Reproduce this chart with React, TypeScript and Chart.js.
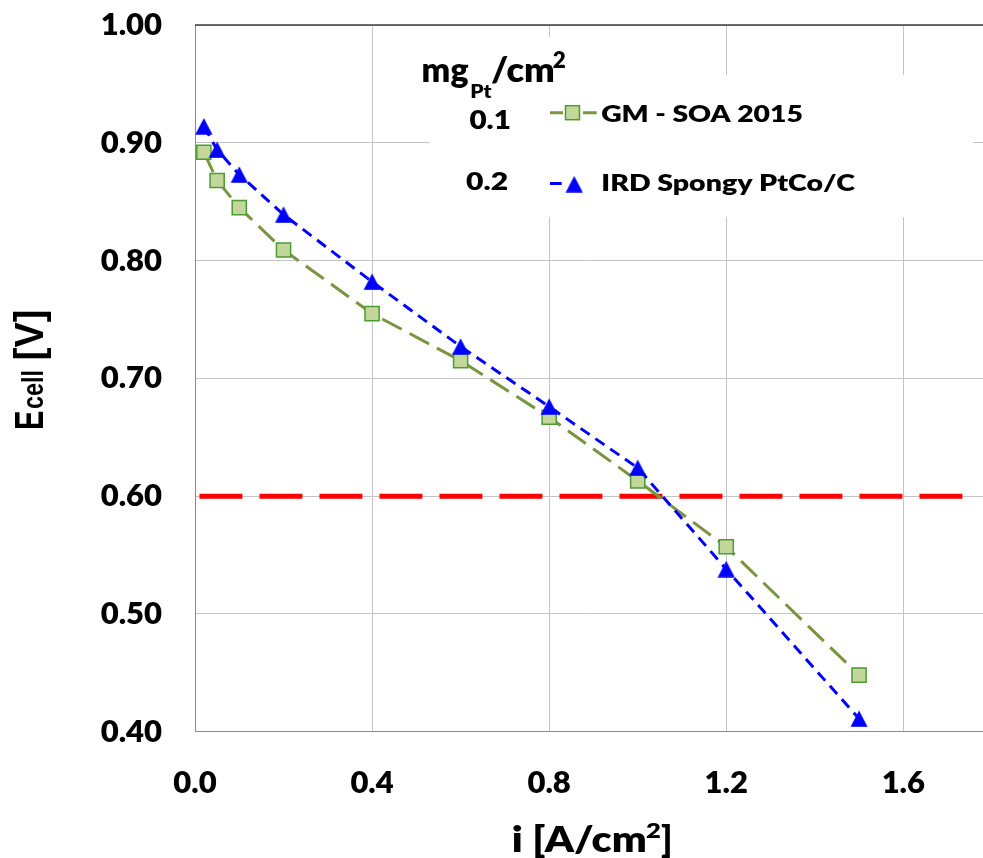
import React, { useEffect, useRef } from "react";
import { Chart, registerables } from "chart.js";

Chart.register(...registerables);

// ---------------- data ----------------
const currentDensity = [0.02, 0.05, 0.1, 0.2, 0.4, 0.6, 0.8, 1.0, 1.2, 1.5];
const gmSoa2015 = [0.892, 0.868, 0.845, 0.809, 0.755, 0.715, 0.667, 0.613, 0.557, 0.448];
const irdSpongyPtCo = [0.914, 0.894, 0.873, 0.839, 0.782, 0.727, 0.676, 0.624, 0.538, 0.411];
const targetLineX = [0.01, 1.735];
const targetLineY = [0.6, 0.6];
const xTickValues = [0, 0.4, 0.8, 1.2, 1.6];
const yTickValues = [0.4, 0.5, 0.6, 0.7, 0.8, 0.9, 1.0];
const seriesNames = ["GM - SOA 2015", "IRD Spongy PtCo/C"];
const loadings = ["0.1", "0.2"];

// ---------------- styles ----------------
const LATO = "Lato, 'Open Sans', sans-serif";
const ARIAL = "'Liberation Sans', Arial, sans-serif";
const HEAVY = "800";
const GM_LINE = "#7A9440";
const GM_FILL = "#C4D79B";
const GM_EDGE = "#4E9A35";
const IRD_BLUE = "#0000FF";
const TARGET_RED = "#FF0000";

function fitText(ctx: CanvasRenderingContext2D, text: string, family: string, left: number, right: number | null, top: number, baseline: number, ref: string, weight = HEAVY) {
  ctx.save();
  ctx.font = `${weight} 100px ${family}`;
  ctx.textAlign = "left";
  ctx.textBaseline = "alphabetic";
  ctx.fillStyle = "#000";
  const m = ctx.measureText(text);
  const r = ctx.measureText(ref);
  const sy = (baseline - top) / r.actualBoundingBoxAscent;
  const inkW = m.actualBoundingBoxLeft + m.actualBoundingBoxRight;
  const sx = right == null ? sy : (right - left) / inkW;
  ctx.translate(left, baseline);
  ctx.scale(sx, sy);
  ctx.fillText(text, m.actualBoundingBoxLeft, 0);
  ctx.restore();
}

function makeTriangle(): HTMLCanvasElement {
  const c = document.createElement("canvas");
  c.width = 18;
  c.height = 17;
  const g = c.getContext("2d")!;
  g.fillStyle = IRD_BLUE;
  g.beginPath();
  g.moveTo(9, 0.3);
  g.lineTo(17.6, 16.7);
  g.lineTo(0.4, 16.7);
  g.closePath();
  g.fill();
  return c;
}

export default function App() {
  const ref = useRef<HTMLCanvasElement>(null);

  useEffect(() => {
    const tri = makeTriangle();

    const overlay = {
      id: "overlay",
      beforeDatasetsDraw(chart: any) {
        const ctx = chart.ctx as CanvasRenderingContext2D;
        const a = chart.chartArea;
        ctx.save();
        ctx.fillStyle = "#fff";
        ctx.fillRect(430, 37, 155, 180);
        ctx.fillRect(430, 75, 543, 142);
        ctx.strokeStyle = "#3c3c3c";
        ctx.lineWidth = 1.5;
        ctx.beginPath();
        ctx.moveTo(a.left, a.top);
        ctx.lineTo(a.right, a.top);
        ctx.stroke();
        ctx.restore();
      },
      afterDraw(chart: any) {
        const ctx = chart.ctx as CanvasRenderingContext2D;
        ctx.save();
        fitText(ctx, "mg", LATO, 423.3, 468.3, 63.3, 81.7, "x");
        fitText(ctx, "Pt", LATO, 471.7, 491.7, 85, 98.3, "H");
        fitText(ctx, "/cm", LATO, 491.7, 553.3, 63.3, 81.7, "x");
        fitText(ctx, "2", LATO, 553.3, 565, 51.7, 68.3, "2");
        fitText(ctx, loadings[0], LATO, 470, 509.3, 110, 129.3, "0");
        fitText(ctx, loadings[1], LATO, 466.7, 507.3, 171.7, 190, "0");
        fitText(ctx, seriesNames[0], LATO, 601.7, 801.7, 104.5, 121.7, "H");
        fitText(ctx, seriesNames[1], LATO, 603.3, 855, 174, 191, "H");

        ctx.lineCap = "butt";
        ctx.strokeStyle = GM_LINE;
        ctx.lineWidth = 3;
        ctx.beginPath();
        ctx.moveTo(550, 112.7);
        ctx.lineTo(563, 112.7);
        ctx.moveTo(583, 112.7);
        ctx.lineTo(596.7, 112.7);
        ctx.stroke();
        ctx.fillStyle = GM_FILL;
        ctx.fillRect(565.5, 105.7, 14, 14);
        ctx.strokeStyle = GM_EDGE;
        ctx.lineWidth = 1.5;
        ctx.strokeRect(565.5, 105.7, 14, 14);

        ctx.strokeStyle = IRD_BLUE;
        ctx.lineWidth = 3;
        ctx.beginPath();
        ctx.moveTo(550, 183.5);
        ctx.lineTo(561.7, 183.5);
        ctx.stroke();
        ctx.drawImage(tri, 574.2 - 9, 184.2 - 8.5);

        fitText(ctx, "i [A/cm", LATO, 513.3, 645, 825, 851.7, "H");
        fitText(ctx, "2", LATO, 646.7, 660, 822.3, 838.3, "2");
        fitText(ctx, "]", LATO, 661.7, null, 825, 851.7, "H");

        ctx.save();
        ctx.rotate(-Math.PI / 2);
        fitText(ctx, "E", ARIAL, -428.3, -411.7, 15, 43.3, "H", "bold");
        fitText(ctx, "cell", ARIAL, -408.3, -371.7, 20.5, 42.5, "l", "bold");
        fitText(ctx, "[V]", ARIAL, -358.3, -311.7, 15, 43.3, "H", "bold");
        ctx.restore();
        ctx.restore();
      },
    };

    const tickFont = { family: LATO, weight: HEAVY as any, size: 31 };

    const chart = new Chart(ref.current!, {
      type: "line",
      data: {
        datasets: [
          {
            label: seriesNames[1],
            data: currentDensity.map((x, i) => ({ x, y: irdSpongyPtCo[i] })),
            borderColor: IRD_BLUE,
            borderWidth: 3,
            borderDash: [11, 7],
            pointStyle: tri,
            pointRadius: 10,
            pointBackgroundColor: IRD_BLUE,
            pointBorderColor: IRD_BLUE,
            tension: 0,
            fill: false,
            order: 1,
          },
          {
            label: seriesNames[0],
            data: currentDensity.map((x, i) => ({ x, y: gmSoa2015[i] })),
            borderColor: GM_LINE,
            borderWidth: 3,
            borderDash: [22, 9],
            pointStyle: "rect",
            pointRadius: 10,
            pointBackgroundColor: GM_FILL,
            pointBorderColor: GM_EDGE,
            pointBorderWidth: 1.5,
            tension: 0,
            fill: false,
            order: 2,
          },
          {
            label: "target",
            data: targetLineX.map((x, i) => ({ x, y: targetLineY[i] })),
            borderColor: TARGET_RED,
            borderWidth: 5,
            borderDash: [43, 17],
            pointRadius: 0,
            tension: 0,
            fill: false,
            order: 3,
          },
        ],
      },
      options: {
        responsive: false,
        animation: false,
        devicePixelRatio: 1,
        layout: { autoPadding: false, padding: { top: 25, right: 0, left: 0, bottom: 0 } },
        plugins: {
          legend: { display: false },
          tooltip: { enabled: false },
          title: { display: false },
        },
        scales: {
          x: {
            type: "linear",
            min: 0,
            max: 1.78,
            afterFit: (s: any) => {
              s.height = 126.3;
              s.paddingLeft = 0;
              s.paddingRight = 0;
            },
            afterBuildTicks: (s: any) => {
              s.ticks = xTickValues.map((v) => ({ value: v }));
            },
            ticks: {
              font: tickFont,
              color: "#000",
              padding: 0,
              maxRotation: 0,
              autoSkip: false,
              callback: (v: any) => Number(v).toFixed(1),
            },
            grid: {
              color: "#C4C4C4",
              lineWidth: 1,
              drawTicks: true,
              tickLength: 33,
              tickColor: "rgba(0,0,0,0)",
            },
            border: { color: "#8A8A8A", width: 1 },
          },
          y: {
            type: "linear",
            min: 0.4,
            max: 1.0,
            afterFit: (s: any) => {
              s.width = 195;
              s.paddingTop = 0;
              s.paddingBottom = 0;
            },
            afterBuildTicks: (s: any) => {
              s.ticks = yTickValues.map((v) => ({ value: v }));
            },
            ticks: {
              font: tickFont,
              color: "#000",
              padding: 0,
              autoSkip: false,
              callback: (v: any) => Number(v).toFixed(2),
            },
            grid: {
              color: "#C4C4C4",
              lineWidth: 1,
              drawTicks: true,
              tickLength: 33,
              tickColor: "rgba(0,0,0,0)",
            },
            border: { color: "#8A8A8A", width: 1 },
          },
        },
      },
      plugins: [overlay],
    });

    return () => chart.destroy();
  }, []);

  return (
    <div
      style={{
        position: "fixed",
        left: 0,
        top: 0,
        width: 983,
        height: 858,
        overflow: "hidden",
        background: "#fff",
      }}
    >
      <canvas ref={ref} width={983} height={858} style={{ display: "block" }} />
    </div>
  );
}
